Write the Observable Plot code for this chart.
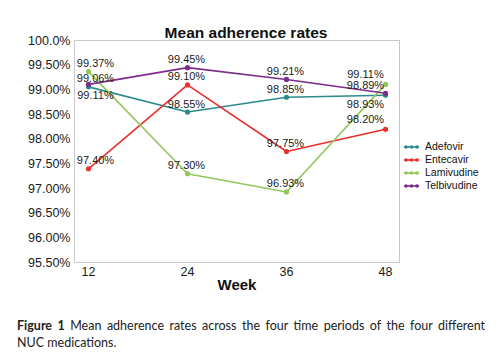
<!DOCTYPE html>
<html>
<head>
<meta charset="utf-8">
<script src="https://cdn.jsdelivr.net/npm/d3@7"></script>
<script src="https://cdn.jsdelivr.net/npm/@observablehq/plot@0.6"></script>
<style>
  body { margin: 0; background: #fff; }
  #wrap { position: relative; width: 499px; height: 353px; font-family: "Liberation Sans", Arial, sans-serif; }
  #legend { position: absolute; left: 404px; top: 140px; font-size: 10.5px; color: #111; line-height: 13px; }
  #legend .item { display: flex; align-items: center; white-space: nowrap; }
  #legend svg { margin-right: 6px; }
  #caption { position: absolute; left: 17px; top: 317px; width: 468px; font-family: Lato, "Open Sans", sans-serif; font-size: 12.5px; line-height: 17px; color: #222; }
  #caption .l1 { text-align: justify; text-align-last: justify; white-space: nowrap; }
  #caption .fig { font-weight: bold; }
</style>
</head>
<body>
<div id="wrap"></div>
<script>
const title = "Mean adherence rates";
const xLabel = "Week";
const weeks = ["12", "24", "36", "48"];
const seriesNames = ["Adefovir", "Entecavir", "Lamivudine", "Telbivudine"];
const colors = ["#2a8a8c", "#e8302c", "#92c85a", "#7b2c8c"];
const adefovir = [99.06, 98.55, 98.85, 98.89];
const entecavir = [97.40, 99.10, 97.75, 98.20];
const lamivudine = [99.37, 97.30, 96.93, 99.11];
const telbivudine = [99.11, 99.45, 99.21, 98.93];
const yTicks = [95.5, 96, 96.5, 97, 97.5, 98, 98.5, 99, 99.5, 100];
const figLabel = "Figure 1";
const captionLines = ["Mean adherence rates across the four time periods of the four different", "NUC medications."];

const valuesBySeries = [adefovir, entecavir, lamivudine, telbivudine];
const data = [];
seriesNames.forEach((s, i) => weeks.forEach((w, j) => data.push({series: s, week: w, value: valuesBySeries[i][j]})));

const fmt = v => v.toFixed(2) + "%";
const below = d => d.series === "Telbivudine" && (d.week === "12" || d.week === "48");

function labels(filterFn, dx, dy) {
  return Plot.text(data.filter(filterFn), {
    x: "week", y: "value", text: d => fmt(d.value),
    dx, dy, fontSize: 11, fill: "#1a1a1a"
  });
}

const chart = Plot.plot({
  width: 499,
  height: 305,
  marginTop: 40,
  marginBottom: 43,
  marginLeft: 74,
  marginRight: 100,
  style: {fontFamily: "'Liberation Sans', Arial, sans-serif", background: "#fff"},
  x: {type: "point", domain: weeks, padding: 0.14},
  y: {domain: [95.5, 100]},
  color: {domain: seriesNames, range: colors},
  marks: [
    Plot.frame({stroke: "#c8c8c8"}),
    Plot.axisY({ticks: yTicks, tickSize: 0, tickPadding: 4, fontSize: 12.5, fill: "#1a1a1a",
      tickFormat: d => d === 100 ? "100.0%" : d.toFixed(2) + "%", label: null}),
    Plot.axisX({tickSize: 0, tickPadding: 5, fontSize: 12.5, fill: "#1a1a1a", label: null}),
    Plot.line(data, {x: "week", y: "value", z: "series", stroke: "series", strokeWidth: 1.6}),
    Plot.dot(data, {x: "week", y: "value", fill: "series", r: 2.6}),
    labels(d => d.week === "12" && !below(d), 7, -8),
    labels(d => d.week === "12" && below(d), 7, 11),
    labels(d => (d.week === "24" || d.week === "36"), -1, -8),
    labels(d => d.week === "48" && !below(d), -20, -10),
    labels(d => d.week === "48" && below(d), -20, 11),
    Plot.text([title], {frameAnchor: "top", dx: 9, dy: -14, fontSize: 15.5, fontWeight: "bold", fill: "#111"}),
    Plot.text([xLabel], {frameAnchor: "bottom", dx: 0, dy: 27, fontSize: 15, fontWeight: "bold", fill: "#111"})
  ]
});

const wrap = document.getElementById("wrap");
wrap.appendChild(chart);

const legend = document.createElement("div");
legend.id = "legend";
seriesNames.forEach((s, i) => {
  const item = document.createElement("div");
  item.className = "item";
  item.innerHTML = `<svg width="15" height="6"><line x1="0" y1="3" x2="15" y2="3" stroke="${colors[i]}" stroke-width="1.6"/><circle cx="2" cy="3" r="1.8" fill="${colors[i]}"/><circle cx="7.5" cy="3" r="1.8" fill="${colors[i]}"/><circle cx="13" cy="3" r="1.8" fill="${colors[i]}"/></svg><span>${s}</span>`;
  legend.appendChild(item);
});
wrap.appendChild(legend);

const cap = document.createElement("div");
cap.id = "caption";
cap.innerHTML = `<div class="l1"><span class="fig">${figLabel}</span> <span>${captionLines[0]}</span></div><div>${captionLines[1]}</div>`;
wrap.appendChild(cap);
</script>
</body>
</html>
